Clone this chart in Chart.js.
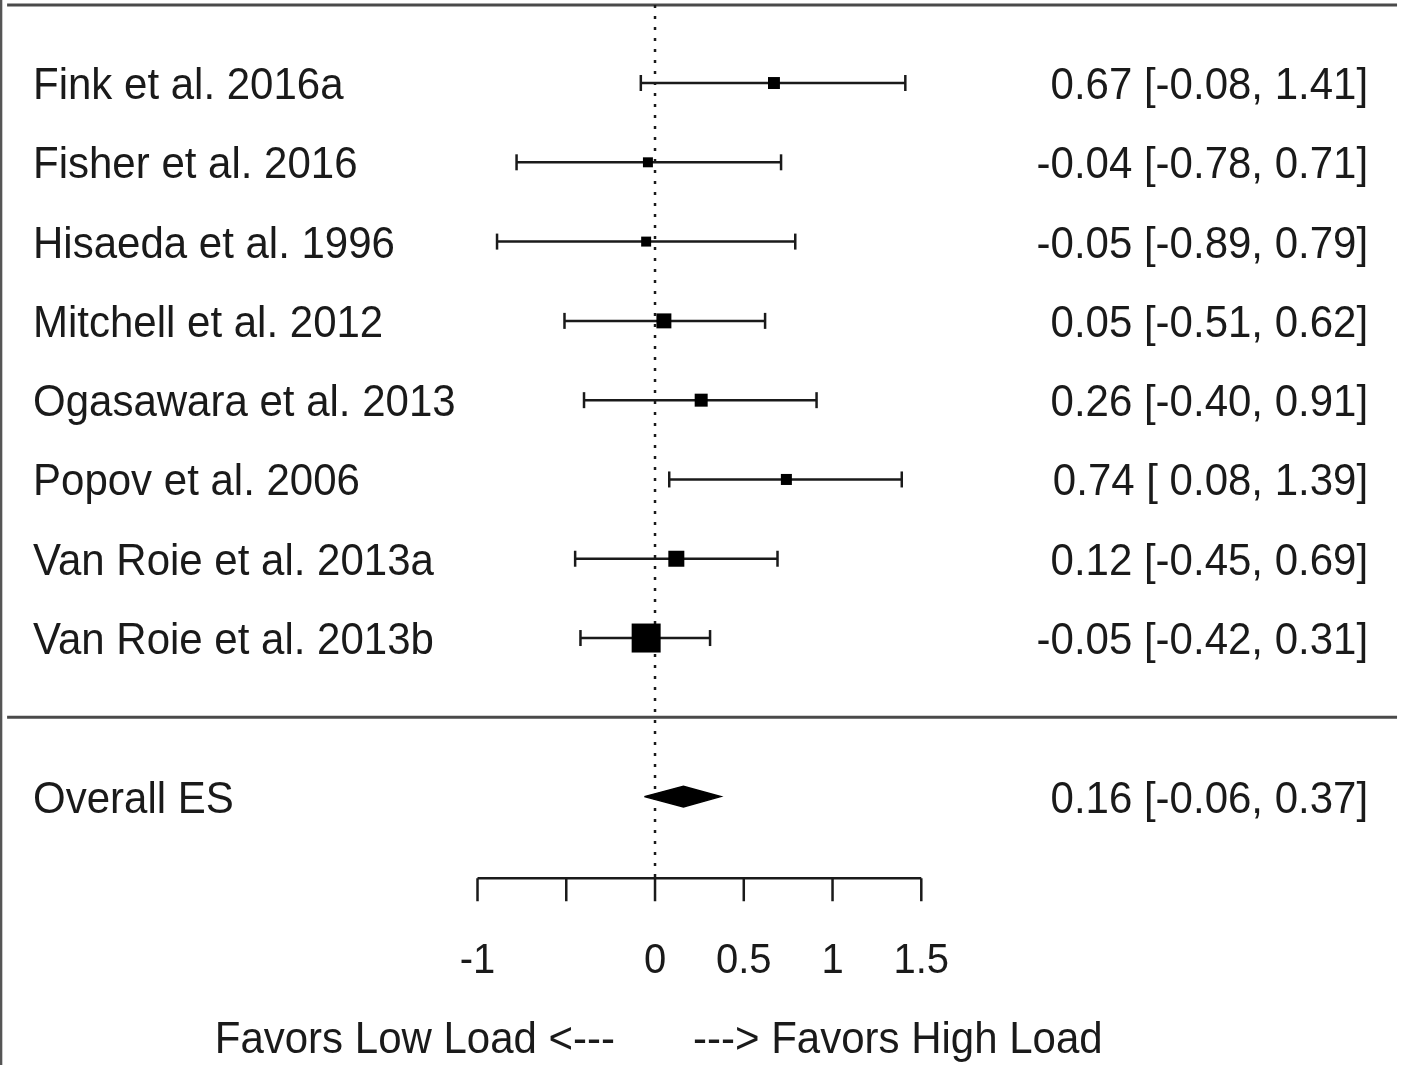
<!DOCTYPE html>
<html>
<head>
<meta charset="utf-8">
<script src="https://cdn.jsdelivr.net/npm/chart.js@4.4.0/dist/chart.umd.min.js"></script>
<style>
  body { margin: 0; background: #fff; }
  #wrap { width: 1402px; height: 1065px; }
</style>
</head>
<body>
<div id="wrap"><canvas id="forest" width="1402" height="1065"></canvas></div>
<script>
// study rows, top to bottom
const studies = [
    'Fink et al. 2016a',
    'Fisher et al. 2016',
    'Hisaeda et al. 1996',
    'Mitchell et al. 2012',
    'Ogasawara et al. 2013',
    'Popov et al. 2006',
    'Van Roie et al. 2013a',
    'Van Roie et al. 2013b'
]
const estimates = [0.67, -0.04, -0.05, 0.05, 0.26, 0.74, 0.12, -0.05]
const lower = [-0.08, -0.78, -0.89, -0.51, -0.40, 0.08, -0.45, -0.42]
const upper = [1.41, 0.71, 0.79, 0.62, 0.91, 1.39, 0.69, 0.31]
// relative weights (%)
const weights = [10.3, 8.6, 8.6, 12.9, 11.2, 9.5, 13.8, 25.0]

const overallLabel = 'Overall ES'
const overallValues = [0.16, -0.06, 0.37]   // estimate, lower, upper

const xTicks = [-1, -0.5, 0, 0.5, 1, 1.5]
const xTickLabels = ['-1', '', '0', '0.5', '1', '1.5']
const favorsLabels = ['Favors Low Load <---', '---> Favors High Load']

// layout (in scale units)
const overallRow = studies.length + 1
const sepRow = studies.length
const topRow = -0.984
const axisRow = 10.03
const tickEndRow = 10.32
const tickLabelRow = 11.04
const favorsRow = 12.03
const lineLeft = -3.65
const lineRight = 4.18
const labelX = -3.504
const ciX = 4.017
const boxScale = 1.16      // px of box side per weight %
const diamondHalf = 0.13

const ink = '#1a1a1a'
const rule = '#4a4a4a'
const font = '"Liberation Sans", Arial, sans-serif'
const stretch = 1.07       // the source glyphs are a little taller than wide

function num(v, pad) {
    const s = v.toFixed(2)
    return (pad && v >= 0) ? ' ' + s : s
}
function ciText(est, lo, hi) {
    return num(est) + ' [' + num(lo, true) + ', ' + num(hi) + ']'
}

function segment(points, extra) {
    return Object.assign({
        data: points,
        showLine: true,
        borderColor: ink,
        borderWidth: 2.5,
        pointRadius: 0,
        fill: false
    }, extra || {})
}

const datasets = []

// boxes first so they sit on top
datasets.push({
    data: estimates.map((e, i) => ({ x: e, y: i })),
    pointStyle: 'rect',
    pointRadius: ctx => weights[ctx.dataIndex] * boxScale * Math.SQRT1_2,
    pointBackgroundColor: '#000',
    pointBorderWidth: 0,
    showLine: false
})

// confidence intervals with end caps
studies.forEach((s, i) => {
    datasets.push(segment([{ x: lower[i], y: i }, { x: upper[i], y: i }], {
        pointStyle: 'line',
        rotation: 90,
        pointRadius: 8,
        pointBorderWidth: 2.5,
        pointBorderColor: ink
    }))
})

// summary diamond
const [oe, ol, oh] = overallValues
datasets.push(segment([
    { x: ol, y: overallRow },
    { x: oe, y: overallRow - diamondHalf },
    { x: oh, y: overallRow },
    { x: oe, y: overallRow + diamondHalf },
    { x: ol, y: overallRow }
], { fill: 'shape', backgroundColor: '#000', borderColor: '#000', borderWidth: 1.5 }))

// reference line at zero
datasets.push(segment([{ x: 0, y: topRow }, { x: 0, y: axisRow }], {
    borderDash: [3, 8],
    borderWidth: 2.5
}))

// horizontal rules
datasets.push(segment([{ x: lineLeft, y: topRow }, { x: lineRight, y: topRow }], { borderColor: rule, borderWidth: 3 }))
datasets.push(segment([{ x: lineLeft, y: sepRow }, { x: lineRight, y: sepRow }], { borderColor: rule, borderWidth: 3 }))

// x axis
datasets.push(segment([{ x: xTicks[0], y: axisRow }, { x: xTicks[xTicks.length - 1], y: axisRow }]))
xTicks.forEach(t => {
    datasets.push(segment([{ x: t, y: axisRow }, { x: t, y: tickEndRow }]))
})

// left frame edge
datasets.push(segment([{ x: -3.684, y: -1.05 }, { x: -3.684, y: 12.39 }], { borderColor: '#555', borderWidth: 2.5 }))

function put(ctx, text, px, py, align) {
    ctx.save()
    ctx.translate(px, py)
    ctx.scale(1, stretch)
    ctx.textAlign = align
    ctx.fillText(text, 0, 0)
    ctx.restore()
}

const textPlugin = {
    id: 'forestText',
    afterDatasetsDraw(chart) {
        const { ctx, scales: { x, y } } = chart
        ctx.save()
        ctx.fillStyle = ink
        ctx.textBaseline = 'alphabetic'
        ctx.font = '42px ' + font
        const lift = 16

        studies.forEach((s, i) => {
            put(ctx, s, x.getPixelForValue(labelX), y.getPixelForValue(i) + lift, 'left')
            put(ctx, ciText(estimates[i], lower[i], upper[i]), x.getPixelForValue(ciX), y.getPixelForValue(i) + lift, 'right')
        })

        put(ctx, overallLabel, x.getPixelForValue(labelX), y.getPixelForValue(overallRow) + lift, 'left')
        put(ctx, ciText(oe, ol, oh), x.getPixelForValue(ciX), y.getPixelForValue(overallRow) + lift, 'right')

        // tick labels
        ctx.font = '40px ' + font
        xTicks.forEach((t, i) => {
            put(ctx, xTickLabels[i], x.getPixelForValue(t), y.getPixelForValue(tickLabelRow) + 15, 'center')
        })

        // direction labels either side of zero
        ctx.font = '42px ' + font
        put(ctx, favorsLabels[0], x.getPixelForValue(-0.225), y.getPixelForValue(favorsRow) + lift, 'right')
        put(ctx, favorsLabels[1], x.getPixelForValue(0.214), y.getPixelForValue(favorsRow) + lift, 'left')
        ctx.restore()
    }
}

new Chart(document.getElementById('forest'), {
    type: 'scatter',
    data: { datasets: datasets },
    options: {
        responsive: false,
        animation: false,
        layout: { padding: 0, autoPadding: false },
        plugins: { legend: { display: false }, tooltip: { enabled: false } },
        scales: {
            x: { type: 'linear', min: -3.69, max: 4.208, display: false },
            y: { type: 'linear', min: -1.047, max: 12.385, reverse: true, display: false }
        }
    },
    plugins: [textPlugin]
})
</script>
</body>
</html>
